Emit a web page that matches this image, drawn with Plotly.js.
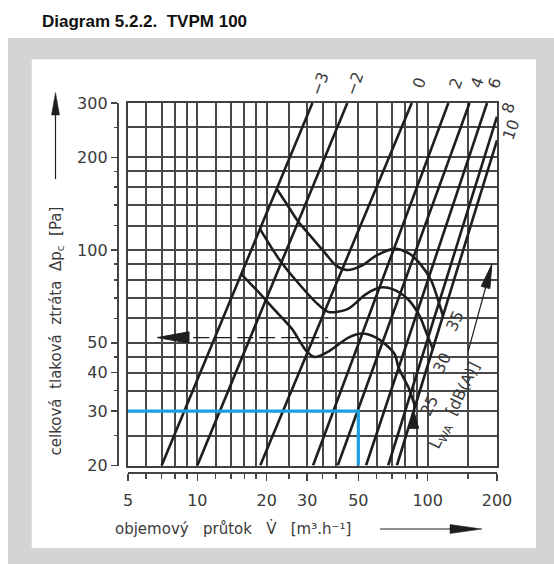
<!DOCTYPE html>
<html>
<head>
<meta charset="utf-8">
<script src="https://cdn.plot.ly/plotly-3.0.1.min.js"></script>
<style>html,body{margin:0;padding:0;background:#fff;}#chart{width:554px;height:564px;}</style>
</head>
<body>
<div id="chart"></div>
<script>
const W = 554, H = 564;

// axis grid values and labelled ticks
const xGrid = [5,6,7,8,9,10,12,14,16,18,20,25,30,35,40,50,60,70,80,90,100,150,200];
const yGrid = [20,25,30,35,40,45,50,60,70,80,90,100,120,140,160,180,200,250,300];
const xTickLabels = [5,10,20,30,50,100,200];
const yTickLabels = [20,30,40,50,100,200,300];

// damper setting lines (straight in log-log)
const lineNames  = ['\u22123','\u22122','0','2','4','6','8','10'];
const lineXStart = [7, 10, 18.75, 31.8, 40.7, 54, 67.4, 73.5];
const lineYStart = [20, 20, 20, 20, 20, 20, 20, 20];
const lineXEnd   = [31.6, 44.8, 85.3, 123, 152, 181, 200, 200];
const lineYEnd   = [300, 300, 300, 300, 300, 300, 270.7, 227];

// sound power level curves L_WA [dB(A)]
const noiseLevels = ['25','30','35'];
const curve25X = [15.5, 18.2, 21.5, 25.8, 29.7, 32.3, 37.5, 45.3, 52.0, 59.7, 65.5, 72.0, 74.8, 82.7, 88.2];
const curve25Y = [83.6, 73.8, 64.3, 55.4, 47.1, 45.0, 47.1, 52.0, 53.6, 52.0, 49.5, 45.9, 41.5, 35.7, 31.1];
const curve30X = [18.7, 22.6, 26.9, 33.3, 37.1, 44.9, 54.0, 62.4, 70.4, 81.7, 92.2, 98.7, 105.2];
const curve30Y = [117.2, 93.6, 79.5, 66.8, 63.0, 64.3, 72.0, 75.6, 74.7, 69.5, 61.2, 53.9, 47.8];
const curve35X = [22.1, 24.4, 27.2, 31.3, 36.1, 40.1, 44.7, 51.8, 59.8, 71.5, 82.9, 92.8, 103.7, 113.6, 116.5];
const curve35Y = [158.2, 141.4, 124.7, 110.1, 97.2, 89.0, 86.2, 89.0, 95.9, 100.9, 97.6, 90.2, 79.5, 65.1, 61.2];

// example reading (blue)
const exampleX = [5, 50, 50];
const exampleY = [30, 30, 20];

// reading arrow (dashed) at left
const readArrowX = [9.6, 37];
const readArrowY = [52, 52];
const readHeadX = [6.7, 9.2, 9.2, 6.7];
const readHeadY = [52, 54.3, 49.9, 52];

// L_WA direction arrow
const lwaShaftX = [150, 178.5];
const lwaShaftY = [47, 75.6];
const lwaHeadX = [190, 186.2, 170.9, 190];
const lwaHeadY = [90, 75.0, 76.3, 90];

// small arrow at the 25 dB curve end
const smallShaftX = [87, 87];
const smallShaftY = [26.4, 39.9];
const smallHeadX = [87, 91.4, 82.8, 87];
const smallHeadY = [30.2, 26.4, 26.4, 30.2];

const px = v => v / W;
const py = v => 1 - v / H;
const INK = '#1e1e1e';
const TXT = '#3a3a3a';
const FONT = 'DejaVu Sans';

const traces = [];
for (let i = 0; i < lineNames.length; i++) {
  traces.push({x:[lineXStart[i], lineXEnd[i]], y:[lineYStart[i], lineYEnd[i]], mode:'lines',
    line:{color:INK, width:2.6}, hoverinfo:'skip', name:lineNames[i]});
}
[[curve25X, curve25Y],[curve30X, curve30Y],[curve35X, curve35Y]].forEach((c, i) => {
  traces.push({x:c[0], y:c[1], mode:'lines', line:{color:INK, width:2.6, shape:'spline', smoothing:0.8},
    hoverinfo:'skip', name:noiseLevels[i]});
});
traces.push({x:exampleX, y:exampleY, mode:'lines', line:{color:'#1aa0e0', width:3.2}, hoverinfo:'skip'});
traces.push({x:readArrowX, y:readArrowY, mode:'lines', line:{color:INK, width:1.4, dash:'16px,6px'}, hoverinfo:'skip'});
traces.push({x:readHeadX, y:readHeadY, mode:'lines', fill:'toself', fillcolor:INK, line:{color:INK, width:1}, hoverinfo:'skip'});
traces.push({x:lwaShaftX, y:lwaShaftY, mode:'lines', line:{color:INK, width:1.2}, hoverinfo:'skip'});
traces.push({x:lwaHeadX, y:lwaHeadY, mode:'lines', fill:'toself', fillcolor:INK, line:{color:INK, width:1}, hoverinfo:'skip'});
traces.push({x:smallShaftX, y:smallShaftY, mode:'lines', line:{color:INK, width:1.2}, hoverinfo:'skip'});
traces.push({x:smallHeadX, y:smallHeadY, mode:'lines', fill:'toself', fillcolor:INK, line:{color:INK, width:1}, hoverinfo:'skip'});
// activates the offset axes
traces.push({x:[10], y:[100], xaxis:'x2', yaxis:'y2', mode:'markers', marker:{opacity:0}, hoverinfo:'skip'});

const xr = [Math.log10(5), Math.log10(200)];
const yr = [Math.log10(20), Math.log10(300)];
const xdom = [px(128), px(497)];
const ydom = [py(465.5), py(103)];

const annotations = [];
function ann(o) { annotations.push(Object.assign({showarrow:false, xanchor:'center', yanchor:'middle'}, o)); }
ann({xref:'paper', yref:'paper', x:px(40), y:py(21), xanchor:'left',
  text:'<b>Diagram 5.2.2.  TVPM 100</b>',
  font:{family:'Liberation Sans, Arial', size:17, color:'#111'}});
ann({xref:'paper', yref:'paper', x:px(55.5), y:py(331), textangle:-90,
  text:'celková  tlaková  ztráta  \u0394p<sub>c</sub>  [Pa]',
  font:{family:FONT, size:15, color:TXT}});
ann({xref:'paper', yref:'paper', x:px(113), y:py(528), xanchor:'left',
  text:'objemový   průtok   V\u0307   [m\u00b3.h\u207b\u00b9]',
  font:{family:FONT, size:15, color:TXT}});
for (let i = 0; i < 6; i++) {
  ann({xref:'x', yref:'paper', x:Math.log10(lineXEnd[i]), y:py(83), xshift:7,
    text:lineNames[i], textangle:-70, font:{family:FONT, size:16, color:TXT}});
}
ann({xref:'paper', yref:'y', x:px(507.7), y:Math.log10(289), text:lineNames[6],
  textangle:-70, font:{family:FONT, size:16, color:TXT}});
ann({xref:'paper', yref:'y', x:px(510.5), y:Math.log10(245), text:lineNames[7],
  textangle:-70, font:{family:FONT, size:16, color:TXT}});
const lvlX = [88.4, 100.8, 114.7], lvlY = [31.3, 43.1, 58.9];
for (let i = 0; i < 3; i++) {
  ann({xref:'x', yref:'y', x:Math.log10(lvlX[i]), y:Math.log10(lvlY[i]), xshift:14,
    text:noiseLevels[i], textangle:-64, font:{family:FONT, size:16, color:TXT}});
}
ann({xref:'x', yref:'y', x:Math.log10(88.4), y:Math.log10(31.3), xshift:40,
  text:'L<sub>WA</sub>  [dB(A)]', textangle:-64, font:{family:FONT, size:16, color:TXT}});

const shapes = [
  {type:'rect', xref:'paper', yref:'paper', x0:px(8), x1:1, y0:0, y1:py(38), fillcolor:'#d3d4d6', line:{width:0}, layer:'below'},
  {type:'rect', xref:'paper', yref:'paper', x0:px(31.7), x1:px(536), y0:py(548), y1:py(59.3), fillcolor:'#ffffff', line:{width:0}, layer:'below'},
  {type:'line', xref:'paper', yref:'paper', x0:px(55.5), x1:px(55.5), y0:py(179), y1:py(112), line:{color:INK, width:1.2}},
  {type:'path', xref:'paper', yref:'paper', path:`M ${px(51.5)} ${py(115)} L ${px(55.5)} ${py(92.5)} L ${px(59.5)} ${py(115)} Z`, fillcolor:INK, line:{color:INK, width:0.5}},
  {type:'line', xref:'paper', yref:'paper', x0:px(380), x1:px(452), y0:py(529), y1:py(529), line:{color:INK, width:1.2}},
  {type:'path', xref:'paper', yref:'paper', path:`M ${px(450)} ${py(524.5)} L ${px(482)} ${py(529)} L ${px(450)} ${py(533.5)} Z`, fillcolor:INK, line:{color:INK, width:0.5}}
];

const gridAxis = {
  type:'log', tickmode:'array', showticklabels:false, ticks:'', showgrid:true,
  gridcolor:'#484848', gridwidth:2, showline:true, mirror:true, linecolor:'#404040',
  linewidth:2, zeroline:false, fixedrange:true
};

const layout = {
  width:W, height:H, margin:{l:0, r:0, t:0, b:0, pad:0},
  paper_bgcolor:'#ffffff', plot_bgcolor:'rgba(0,0,0,0)', showlegend:false,
  xaxis: Object.assign({}, gridAxis, {range:xr, domain:xdom, tickvals:xGrid, anchor:'y'}),
  yaxis: Object.assign({}, gridAxis, {range:yr, domain:ydom, tickvals:yGrid, anchor:'x'}),
  xaxis2: {type:'log', overlaying:'x', anchor:'free', position:py(473.3), side:'bottom', range:xr,
    tickmode:'array', tickvals:xTickLabels, ticktext:xTickLabels.map(String),
    ticks:'outside', ticklen:7, tickwidth:1.5, tickcolor:'#444', showline:true, linecolor:'#444', linewidth:2,
    showgrid:false, zeroline:false, fixedrange:true, ticklabelstandoff:5,
    tickfont:{family:FONT, size:16, color:TXT},
    minor:{tickmode:'array', tickvals:xGrid.filter(v => !xTickLabels.includes(v)), ticks:'outside', ticklen:4.5, tickwidth:1.5, tickcolor:'#444', showgrid:false}},
  yaxis2: {type:'log', overlaying:'y', anchor:'free', position:px(118.3), side:'left', range:yr,
    tickmode:'array', tickvals:yTickLabels, ticktext:yTickLabels.map(String),
    ticks:'outside', ticklen:6.5, tickwidth:1.5, tickcolor:'#444', showline:true, linecolor:'#444', linewidth:2,
    showgrid:false, zeroline:false, fixedrange:true,
    tickfont:{family:FONT, size:16, color:TXT},
    minor:{tickmode:'array', tickvals:yGrid.filter(v => !yTickLabels.includes(v)), ticks:'outside', ticklen:3.5, tickwidth:1.5, tickcolor:'#444', showgrid:false}},
  annotations: annotations,
  shapes: shapes
};

Plotly.newPlot('chart', traces, layout, {staticPlot:true, displayModeBar:false});
</script>
</body>
</html>
